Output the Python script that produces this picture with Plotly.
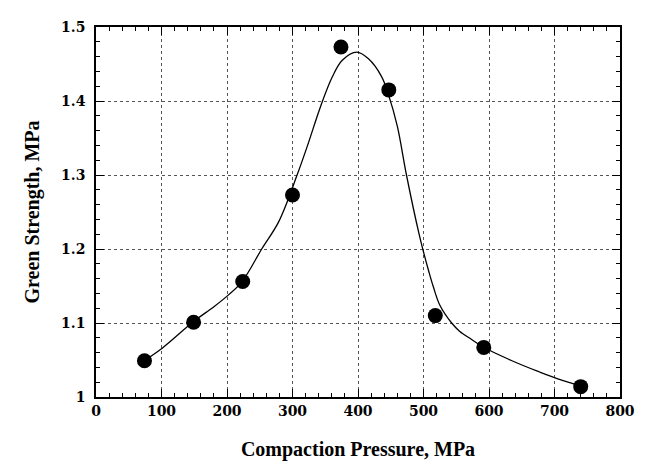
import plotly.graph_objects as go

# Measured data points
pressure = [74, 149, 224, 300, 374, 447, 518, 592, 740]
strength = [1.049, 1.101, 1.156, 1.273, 1.473, 1.415, 1.110, 1.067, 1.014]

# Fitted curve
curve_x = [75, 101, 149, 180, 201, 223, 253, 279, 307, 323, 343, 361, 376, 398,
           416, 436, 446, 460, 474, 493, 500, 508, 515, 525, 543, 555, 573, 591,
           635, 675, 705, 737]
curve_y = [1.050, 1.066, 1.102, 1.122, 1.137, 1.156, 1.200, 1.237, 1.300, 1.340,
           1.393, 1.433, 1.455, 1.466, 1.457, 1.433, 1.410, 1.366, 1.300, 1.221,
           1.196, 1.170, 1.149, 1.124, 1.100, 1.089, 1.078, 1.0675,
           1.049, 1.0345, 1.0245, 1.016]

x_ticks = [0, 100, 200, 300, 400, 500, 600, 700, 800]
y_ticks = [1, 1.1, 1.2, 1.3, 1.4, 1.5]
y_tick_text = ["1", "1.1", "1.2", "1.3", "1.4", "1.5"]

tick_family = "DejaVu Serif"
title_family = "Liberation Serif"

fig = go.Figure()
fig.add_trace(go.Scatter(x=curve_x, y=curve_y, mode="lines",
                         line=dict(color="black", width=1.3, shape="spline", smoothing=1.0),
                         showlegend=False, hoverinfo="skip"))
fig.add_trace(go.Scatter(x=pressure, y=strength, mode="markers",
                         marker=dict(color="black", size=15),
                         showlegend=False))

axis_common = dict(
    showline=True, linecolor="black", linewidth=1.6, mirror="ticks",
    ticks="inside", ticklen=8, tickwidth=1.2, tickcolor="black",
    showgrid=True, gridcolor="#555", griddash="dot", gridwidth=1,
    zeroline=False,
    tickfont=dict(family=tick_family, size=14, color="black", weight="bold"),
)

fig.update_xaxes(range=[0, 800], tickvals=x_ticks,
                 minor=dict(dtick=20, ticks="inside", ticklen=4, tickcolor="black", showgrid=False),
                 title=dict(text="<b>Compaction Pressure, MPa</b>", standoff=24,
                            font=dict(family=title_family, size=20, color="black")),
                 **axis_common)
fig.update_yaxes(range=[1, 1.5], tickvals=y_ticks, ticktext=y_tick_text,
                 ticklabelstandoff=6,
                 minor=dict(dtick=0.02, ticks="inside", ticklen=4, tickcolor="black", showgrid=False),
                 title=dict(text="<b>Green Strength, MPa</b>", standoff=16,
                            font=dict(family=title_family, size=20, color="black")),
                 **axis_common)

# the page body adds an 8 px margin on the left and top
fig.update_layout(width=638, height=461,
                  margin=dict(l=88, r=16, t=11, b=72),
                  plot_bgcolor="white", paper_bgcolor="white")

fig.write_html("out.html")
